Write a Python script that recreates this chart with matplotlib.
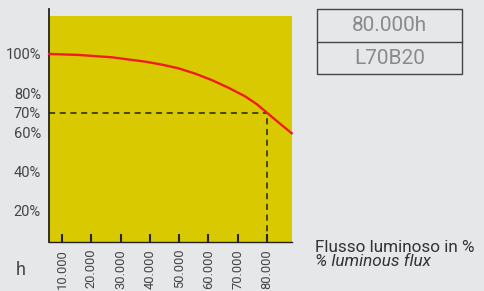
import matplotlib
matplotlib.use('Agg')
import matplotlib.pyplot as plt
from matplotlib.patches import Rectangle
from matplotlib.lines import Line2D

# flux curve (hours, % flux)
hours = [5600, 15600, 27000, 38300, 44000, 49700, 55400, 61100, 66800, 72500, 76500, 80000, 83900, 88400]
flux = [100, 99.5, 98.3, 96.1, 94.6, 92.7, 90.0, 86.7, 82.8, 78.4, 74.4, 70.0, 65.1, 59.6]

xticks = [10000, 20000, 30000, 40000, 50000, 60000, 70000, 80000]
xlabels = ['10.000', '20.000', '30.000', '40.000', '50.000', '60.000', '70.000', '80.000']
yticks = [20, 40, 60, 70, 80, 100]
ylabels = ['20%', '40%', '60%', '70%', '80%', '100%']

life_h = 80000
life_pct = 70
box_lines = ['80.000h', 'L70B20']

bg = '#e6e7e9'
yellow = '#d9c900'
red = '#ee1c25'
txt = '#444444'

plt.rcParams['font.family'] = ['Roboto', 'DejaVu Sans']

W, H = 484, 291
fig = plt.figure(figsize=(W / 100, H / 100), dpi=100, facecolor=bg)
ax = fig.add_axes([49 / W, 1 - 242 / H, (292 - 49) / W, (242 - 9) / H])
ax.set_facecolor(bg)

ax.set_xlim(5570, 88500)
ax.set_ylim(4.2, 122.9)
ax.axhspan(4.2, 119.4, color=yellow, lw=0, zorder=0)

ax.plot(hours, flux, color=red, lw=1.7, solid_joinstyle='round', zorder=3, clip_on=False)

# L70 guide lines
ax.plot([5570, life_h], [life_pct, life_pct], color='#222222', lw=1.1, dashes=(4, 3), zorder=2)
ax.plot([life_h, life_h], [4.2, life_pct], color='#222222', lw=1.1, dashes=(4, 3), zorder=2)

for s in ['top', 'right']:
    ax.spines[s].set_visible(False)
ax.spines['left'].set_color('#222222')
ax.spines['left'].set_linewidth(1.3)
ax.spines['bottom'].set_color('#222222')
ax.spines['bottom'].set_linewidth(1.0)

ax.set_xticks(xticks)
ax.set_xticklabels(xlabels, rotation=90, va='top', ha='center')
ax.tick_params(axis='x', direction='in', length=5.8, width=1.5, color='#222222',
               pad=5.0, labelsize=9.3, labelcolor=txt)
ax.set_yticks(yticks)
ax.set_yticklabels(ylabels)
ax.tick_params(axis='y', length=0, pad=5.8, labelsize=10.5, labelcolor=txt)

fig.text(21 / W, 1 - 270 / H, 'h', fontsize=13, color=txt, ha='center', va='center')

# info box
fig.patches.append(Rectangle((316.7 / W, 1 - 74 / H), (462.3 - 316.7) / W, (74 - 9.3) / H,
                             transform=fig.transFigure, fill=False, ec='#444444', lw=1.0))
fig.lines.append(Line2D([316.7 / W, 462.3 / W], [1 - 41.7 / H, 1 - 41.7 / H],
                        transform=fig.transFigure, color='#444444', lw=1.0))
fig.text(389.5 / W, 1 - 25.5 / H, box_lines[0], fontsize=15, color='#8a8a8a',
         ha='center', va='center')
fig.text(389.5 / W, 1 - 58 / H, box_lines[1], fontsize=15, color='#8a8a8a',
         ha='center', va='center')

fig.text(315 / W, 1 - 252 / H, 'Flusso luminoso in %', fontsize=12.3, color='#333333',
         ha='left', va='baseline')
fig.text(315 / W, 1 - 266 / H, '% luminous flux', fontsize=12.3, color='#333333',
         ha='left', va='baseline', style='italic')

fig.savefig('out.png', dpi=100, facecolor=bg)
